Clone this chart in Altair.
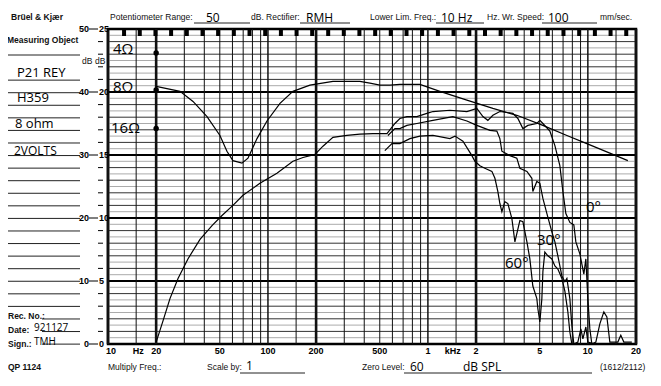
import altair as alt
import pandas as pd

# ---------------- data ----------------
# admittance-like trace (the smooth upper curve, 8 ohm reference at 20 Hz)
adm_f = [20, 28.2, 34.0, 41.6, 50.1, 55.4, 60.4, 68.8, 75.0, 85.4, 98.6, 118.9, 143.3, 183, 254.8,
         375.8, 434, 501, 578.8, 668, 891, 1189, 1753, 2548, 3597, 5234, 7396, 9857, 13725, 17783]
adm_db = [40.9, 40.1, 38.5, 36.1, 33.1, 30.6, 29.1, 28.7, 29.5, 32.6, 35.4, 38.2, 40.1, 41.1, 41.7,
          41.7, 41.4, 41.1, 41.1, 41.2, 41.2, 40.1, 38.7, 37.4, 36.3, 34.7, 33.1, 31.8, 30.3, 29.1]

# on-axis (0 deg) response
on_f = [20, 22.1, 24.4, 27.4, 31.6, 37.6, 44.7, 51.6, 60.4, 69.8, 89.1, 113.8, 143.3, 165.6, 196.7,
        220.8, 254.8, 311.6, 375.8, 452.9, 554.6, 622, 668, 739, 853, 986, 1075, 1372, 1753, 2023,
        2208, 2371, 2548, 2818, 3397, 3652, 3926, 4217, 4799, 5012, 5236, 5788, 6223, 6683, 6982,
        7286, 7718, 8175, 8414, 8913, 9441, 9716, 10000, 10292, 10593, 11220, 11885, 12589, 13152,
        13725, 15399, 16069, 16788, 18836]
on_db = [0.3, 3.7, 7.2, 10.4, 13.5, 16.6, 18.8, 20.4, 22.0, 23.6, 25.5, 27.1, 29.0, 29.6, 30.1,
         31.4, 32.8, 33.1, 33.3, 33.4, 33.4, 35.0, 35.8, 36.1, 36.1, 36.6, 36.9, 37.1, 36.9, 37.4,
         36.1, 35.5, 36.3, 36.9, 36.6, 35.8, 34.2, 34.7, 35.0, 35.5, 35.0, 33.8, 31.5, 28.3, 24.2,
         20.7, 19.3, 18.9, 16.2, 14.3, 11.1, 13.5, 7.2, 2.4, 0.0, 0.3, 3.2, 5.1, 4.3,
         0.3, 0.3, 1.4, 0.3, 0.3]

# 30 deg off-axis
off30_f = [562, 622, 668, 739, 853, 1075, 1432, 1753, 2023, 2441, 2698, 2818, 2901, 3255, 3597,
           3758, 4159, 4467, 4529, 4799, 5012, 5236, 5546, 5957, 6223, 6494, 6879, 7183, 7396, 7718,
           7943, 8175, 8660, 9043, 9311, 9716, 10000, 11066]
off30_db = [33.1, 34.2, 34.2, 34.7, 35.0, 35.5, 36.1, 35.4, 34.7, 33.9, 33.8, 32.6, 30.6, 29.9, 29.5,
            27.9, 27.4, 26.3, 24.2, 25.8, 25.5, 23.1, 20.7, 17.8, 16.2, 14.0, 10.8, 9.9, 10.4, 7.2,
            2.9, 0.0, 0.3, 2.4, 0.8, 2.7, 0.3, 0.0]

# 60 deg off-axis
off60_f = [538, 596, 668, 772, 891, 1075, 1372, 1476, 1656, 1884, 1968, 2113, 2270, 2512, 2624,
           2738, 2818, 2901, 3027, 3162, 3350, 3499, 3758, 3926, 4159, 4340, 4529, 4799, 4870, 5012,
           5158, 5236, 5383, 5623, 5957, 6223, 6494, 6879, 7183, 7499, 7718, 7943]
off60_db = [30.7, 31.8, 31.8, 32.6, 33.0, 33.1, 32.6, 33.0, 32.2, 29.9, 29.0, 28.3, 27.9, 27.4, 26.3,
            24.2, 22.3, 21.0, 22.6, 22.3, 19.9, 16.2, 19.6, 19.4, 16.2, 13.5, 9.2, 7.2, 5.6, 3.5,
            7.2, 11.5, 14.6, 14.0, 13.5, 12.4, 11.9, 10.4, 8.4, 5.1, 1.9, 0.0]

# impedance reference marks on the 20 Hz line
ohm_labels = ["4Ω", "8Ω", "16Ω"]
ohm_db = [46.2, 40.3, 34.2]
ohm_freq = 20

# paper grid
grid_freqs = [10, 15, 20, 30, 40, 50, 60, 70, 80, 90, 100, 150, 200, 300, 400, 500, 600, 700, 800,
              900, 1000, 1500, 2000, 3000, 4000, 5000, 6000, 7000, 8000, 9000, 10000, 15000, 20000]
thick_freqs = [10, 20, 200, 2000, 20000]
medium_freqs = [100, 1000, 10000]
db_lines = list(range(0, 51))
db_labels_50 = [0, 10, 20, 30, 40, 50]
db_labels_25 = [0, 5, 10, 15, 20, 25]
x_tick_f = [20, 50, 100, 200, 500, 1000, 2000, 5000, 10000, 20000]
x_tick_lab = ["20", "50", "100", "200", "500", "1", "2", "5", "10", "20"]
paper_marks_f = [12.6, 15.8, 19.8, 24.8, 31.1, 39.0, 48.8, 61.2, 76.7, 96.1, 120.5, 151, 189, 238,
                 298, 373, 468, 586, 735, 920, 1155, 1447, 1815, 2275, 2850, 3573, 4479, 5613,
                 7040, 8826, 11066, 13870, 17380]

# ---------------- layout ----------------
W, H = 528, 315
OX, OY = 108, 29  # page position of the plot origin
PRINT = "Liberation Sans Narrow, Liberation Sans, Arial"
HAND = "Open Sans, DejaVu Sans"

xs = alt.Scale(type="log", domain=[10, 20000], nice=False)
ys = alt.Scale(domain=[0, 50], nice=False, zero=False)


def X(field):
    return alt.X(field, type="quantitative", scale=xs, axis=None)


def Y(field):
    return alt.Y(field, type="quantitative", scale=ys, axis=None)


PX = alt.X("px:Q", scale=None, axis=None)
PY = alt.Y("py:Q", scale=None, axis=None)

# horizontal grid
hg = pd.DataFrame({"db": db_lines})
hg["c"] = ["#000000" if d % 10 == 0 else ("#333333" if d % 2 == 0 else "#ababab") for d in hg.db]
hg["w"] = [2.2 if d % 10 == 0 else 1.0 for d in hg.db]
hgrid = alt.Chart(hg).mark_rule().encode(
    y=Y("db"), x=alt.value(0), x2=alt.value(W),
    color=alt.Color("c:N", scale=None), strokeWidth=alt.StrokeWidth("w:Q", scale=None))

# vertical grid
vg = pd.DataFrame({"f": grid_freqs})
vg["w"] = [2.6 if f in thick_freqs else (1.5 if f in medium_freqs else 1.0) for f in vg.f]
vgrid = alt.Chart(vg).mark_rule(color="#111111").encode(
    x=X("f"), y=alt.value(0), y2=alt.value(H), strokeWidth=alt.StrokeWidth("w:Q", scale=None))

# paper transport marks along the top edge
pm = pd.DataFrame({"f": paper_marks_f})
marks = alt.Chart(pm).mark_rule(color="black", strokeWidth=4).encode(
    x=X("f"), y=alt.value(1), y2=alt.value(7))

# response curves
frames = []
for name, fs, ds in [("adm", adm_f, adm_db), ("0", on_f, on_db),
                     ("30", off30_f, off30_db), ("60", off60_f, off60_db)]:
    d = pd.DataFrame({"f": fs, "db": ds})
    d["curve"] = name
    d["i"] = range(len(d))
    frames.append(d)
cv = pd.concat(frames, ignore_index=True)
curves = alt.Chart(cv).mark_line(color="black", strokeWidth=1.2).encode(
    x=X("f"), y=Y("db"), detail="curve:N", order="i:Q")

# impedance dots
od = pd.DataFrame({"f": [ohm_freq] * 3, "db": ohm_db})
dots = alt.Chart(od).mark_circle(color="black", size=30, opacity=1).encode(x=X("f"), y=Y("db"))

# left axis labels
la = pd.DataFrame({"db": db_labels_50, "t50": [str(v) for v in db_labels_50],
                   "t25": [str(v) for v in db_labels_25]})
lab50 = alt.Chart(la).mark_text(align="right", baseline="middle", font=PRINT, fontSize=9,
                                fontWeight="bold").encode(y=Y("db"), x=alt.value(-19), text="t50:N")
lab25 = alt.Chart(la).mark_text(align="left", baseline="middle", font=PRINT, fontSize=9,
                                fontWeight="bold").encode(y=Y("db"), x=alt.value(-9), text="t25:N")
dash = alt.Chart(la).mark_rule(color="black", strokeWidth=1).encode(
    y=Y("db"), x=alt.value(-19), x2=alt.value(-10))
tk = pd.DataFrame({"db": [d for d in db_lines if d % 2 == 0 and d % 10 != 0]})
ticks = alt.Chart(tk).mark_rule(color="black", strokeWidth=1).encode(
    y=Y("db"), x=alt.value(-10), x2=alt.value(-5))

# bottom frequency labels
xl = pd.DataFrame({"f": x_tick_f, "t": x_tick_lab})
xlab = alt.Chart(xl).mark_text(align="center", baseline="middle", font=PRINT, fontSize=9,
                               fontWeight="bold").encode(x=X("f"), y=alt.value(322), text="t:N")
xl2 = pd.DataFrame({"f": [10, 14.8, 1370], "t": ["10", "Hz", "kHz"]})
xlab2 = alt.Chart(xl2).mark_text(align="center", baseline="middle", font=PRINT, fontSize=9,
                                 fontWeight="bold", dx=3).encode(x=X("f"), y=alt.value(322), text="t:N")

# ---------------- text annotations (page coordinates) ----------------
printed = pd.DataFrame([
    ("Potentiometer Range:", 110, 17), ("dB. Rectifier:", 251, 17),
    ("Lower Lim. Freq.:", 370, 17), ("Hz. Wr. Speed:", 487, 17), ("mm/sec.", 600, 17),
    ("Multiply Freq.:", 108, 367), ("Scale by:", 207, 367), ("Zero Level:", 362, 367),
    ("(1612/2112)", 600, 367), ("dB", 82, 61), ("dB", 95, 61),
], columns=["t", "ax", "ay"])
bold = pd.DataFrame([
    ("Brüel & Kjær", 11, 17), ("Measuring Object", 7, 40), ("Rec. No.:", 8, 316),
    ("Date:", 8, 330), ("Sign.:", 8, 344), ("QP 1124", 8, 367),
], columns=["t", "ax", "ay"])
hand = pd.DataFrame([
    ("50", 206, 18, 12), ("RMH", 306, 18, 12), ("10 Hz", 441, 18, 12), ("100", 548, 18, 12),
    ("P21 REY", 17, 73, 13), ("H359", 17, 98, 13), ("8 ohm", 15, 124, 13), ("2VOLTS", 14, 151, 12),
    ("921127", 34, 328, 10), ("TMH", 34, 342, 10),
    ("4Ω", 113, 49, 15), ("8Ω", 113, 87, 15), ("16Ω", 111, 128, 15),
    ("0°", 586, 207, 15), ("30°", 537, 240, 15), ("60°", 505, 263, 15),
    ("1", 246, 366, 12), ("60", 410, 367, 12), ("dB SPL", 463, 367, 12),
], columns=["t", "ax", "ay", "fs"])
for d in (printed, bold, hand):
    d["px"] = d.ax - OX
    d["py"] = d.ay - OY

t_print = alt.Chart(printed).mark_text(align="left", baseline="middle", font=PRINT, fontSize=8.5,
                                       color="#111111").encode(x=PX, y=PY, text="t:N")
t_bold = alt.Chart(bold).mark_text(align="left", baseline="middle", font=PRINT, fontSize=8.5,
                                   fontWeight="bold", color="#111111").encode(x=PX, y=PY, text="t:N")
t_hand = alt.Chart(hand).mark_text(align="left", baseline="middle", font=HAND,
                                   color="#000000").encode(
    x=PX, y=PY, text="t:N", size=alt.Size("fs:Q", scale=None))

# form lines: left column ruled lines and field underlines
rules = []
for k in range(24):
    if k == 1:
        continue
    y = 55 + 12.57 * k
    rules.append((42 if k >= 21 else 7, 80, y))
rules += [(194, 250, 23), (300, 350, 23), (436, 484, 23), (542, 597, 23),
          (240, 305, 373), (404, 592, 373)]
rl = pd.DataFrame(rules, columns=["ax", "ax2", "ay"])
rl["px"] = rl.ax - OX
rl["px2"] = rl.ax2 - OX
rl["py"] = rl.ay - OY
form = alt.Chart(rl).mark_rule(color="#222222", strokeWidth=1).encode(
    x=PX, x2="px2:Q", y=PY)

chart = alt.layer(
    hgrid, vgrid, marks, curves, dots, lab50, lab25, dash, ticks, xlab, xlab2,
    form, t_print, t_bold, t_hand
).properties(
    width=W, height=H,
    autosize=alt.AutoSizeParams(type="none"),
    padding={"left": OX - 8, "top": OY - 8, "right": 17, "bottom": 35},
    background="white",
).configure_view(stroke="black", strokeWidth=2.5)

chart.save("out.html", embed_options={"renderer": "svg", "actions": False})
